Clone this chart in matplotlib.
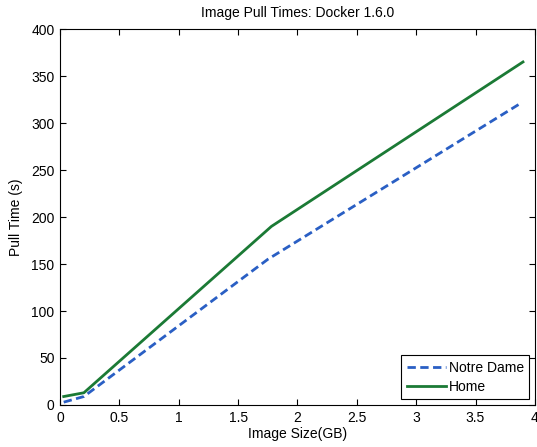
import matplotlib
matplotlib.use("AGG")
import matplotlib.pyplot as plt

plt.rcParams["font.family"] = ["Liberation Sans", "DejaVu Sans"]

# image size (GB) vs pull time (s)
size_nd = [0.03, 0.2, 1.75, 3.88]
time_nd = [3, 9, 155, 321]
size_home = [0.03, 0.2, 1.78, 3.9]
time_home = [9, 13, 190, 365]

fig = plt.figure(figsize=(5.37, 4.47), dpi=100)
ax = fig.add_axes([0.112, 0.094, 0.884, 0.841])

ax.plot(size_nd, time_nd, "--", color="#2a5fc4", lw=2, label="Notre Dame", dashes=(3, 1.6))
ax.plot(size_home, time_home, "-", color="#1b7a35", lw=2, label="Home")

ax.set_xlim(0, 4)
ax.set_ylim(0, 400)
ax.set_xticks([0, 0.5, 1, 1.5, 2, 2.5, 3, 3.5, 4])
ax.set_xticklabels(["0", "0.5", "1", "1.5", "2", "2.5", "3", "3.5", "4"])
ax.set_yticks(range(0, 401, 50))
ax.tick_params(direction="in", top=True, right=True, labelsize=10, length=4, pad=4)
for s in ax.spines.values():
    s.set_linewidth(0.8)

ax.set_title("Image Pull Times: Docker 1.6.0", fontsize=10, pad=9)
ax.set_xlabel("Image Size(GB)", fontsize=10, labelpad=2)
ax.set_ylabel("Pull Time (s)", fontsize=10, labelpad=6)

leg = ax.legend(loc="lower right", fontsize=10, fancybox=False, framealpha=1,
                edgecolor="black", borderaxespad=0.4, handlelength=2.8,
                labelspacing=0.35, handletextpad=0.2, borderpad=0.4)
leg.get_frame().set_linewidth(0.8)

plt.savefig("out.png", dpi=100)
